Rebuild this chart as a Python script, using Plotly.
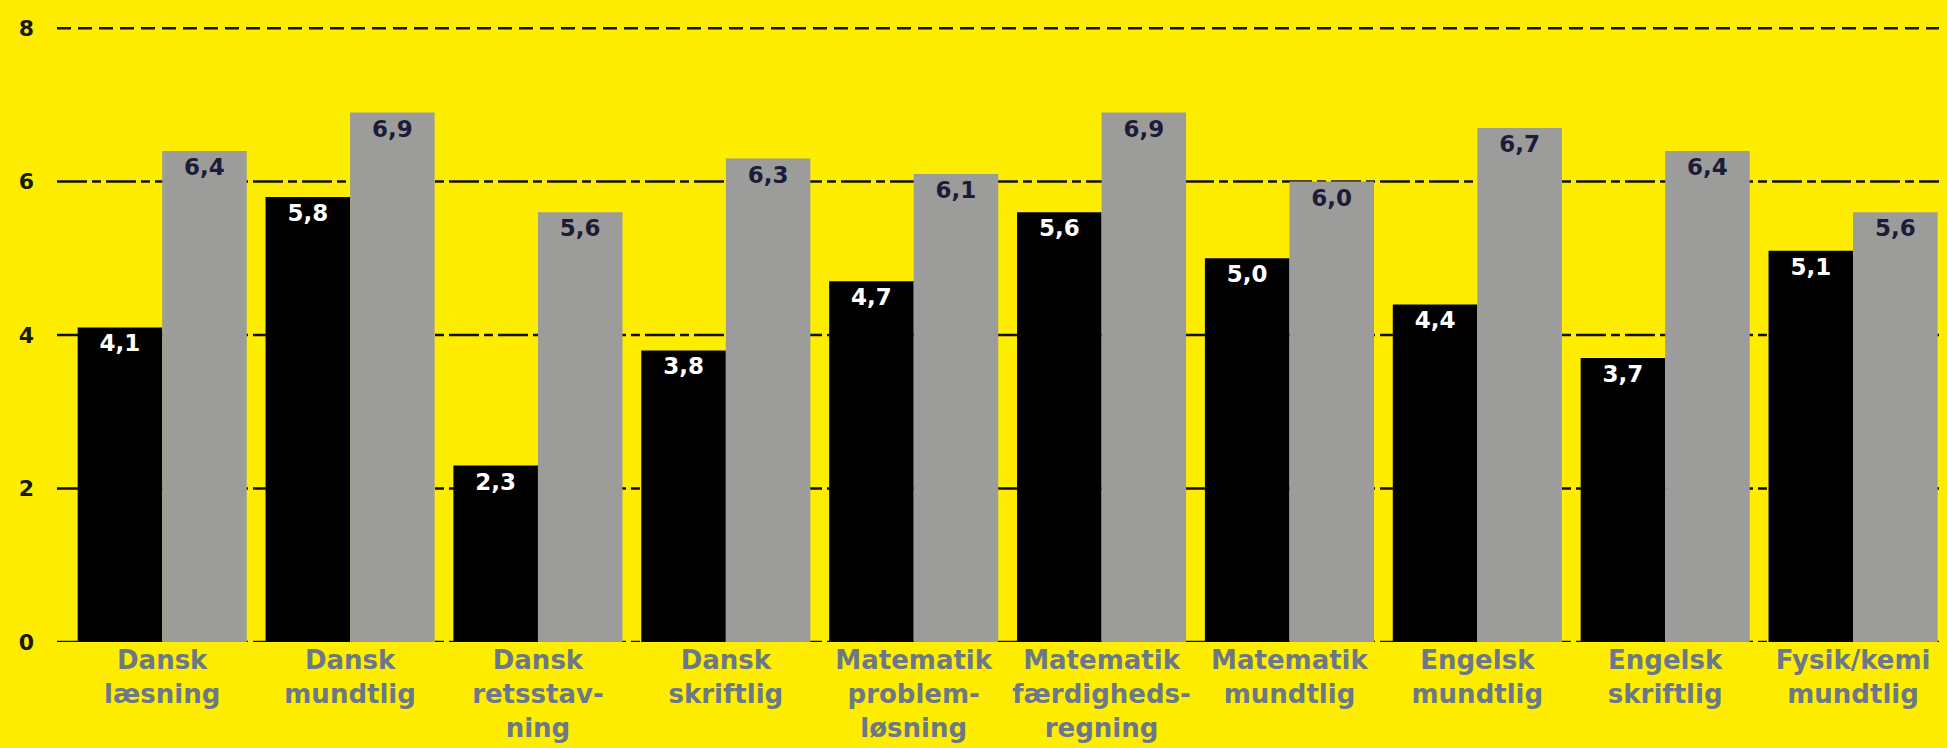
import plotly.graph_objects as go

categories = ["Dansk<br>læsning", "Dansk<br>mundtlig", "Dansk<br>retsstav-<br>ning", "Dansk<br>skriftlig",
              "Matematik<br>problem-<br>løsning", "Matematik<br>færdigheds-<br>regning", "Matematik<br>mundtlig",
              "Engelsk<br>mundtlig", "Engelsk<br>skriftlig", "Fysik/kemi<br>mundtlig"]
black_values = [4.1, 5.8, 2.3, 3.8, 4.7, 5.6, 5.0, 4.4, 3.7, 5.1]
gray_values = [6.4, 6.9, 5.6, 6.3, 6.1, 6.9, 6.0, 6.7, 6.4, 5.6]
ytick_values = [0, 2, 4, 6, 8]

YELLOW = "#FFED00"
FONT = "DejaVu Sans"

fig = go.Figure()
fig.add_trace(go.Bar(x=categories, y=black_values, marker=dict(color="#000000", line=dict(width=0)),
                     texttemplate="%{y:.1f}", textposition="inside", insidetextanchor="end",
                     textangle=0, constraintext="none",
                     textfont=dict(family=FONT, size=23, color="#ffffff", weight="bold")))
fig.add_trace(go.Bar(x=categories, y=gray_values, marker=dict(color="#9c9c9a", line=dict(width=0)),
                     texttemplate="%{y:.1f}", textposition="inside", insidetextanchor="end",
                     textangle=0, constraintext="none",
                     textfont=dict(family=FONT, size=23, color="#1c1c38", weight="bold")))

# gridlines: top one plain dashed, the others long-dash-dot
for v in ytick_values:
    dash = "14px,7px" if v == max(ytick_values) else "30px,5px,9px,5px"
    fig.add_hline(y=v, line=dict(color="#111111", width=2.5, dash=dash), layer="below")

fig.update_layout(
    width=1947, height=748,
    paper_bgcolor=YELLOW, plot_bgcolor=YELLOW,
    margin=dict(l=49, r=8, t=16, b=114),
    barmode="group", bargap=0.1, bargroupgap=0,
    showlegend=False,
    separators=",.",
    xaxis=dict(range=[-0.56, 9.5], showgrid=False, zeroline=False, showline=False,
               ticks="", tickfont=dict(family=FONT, size=26, color="#6b7889", weight="bold")),
    yaxis=dict(range=[0, 8.015], tickvals=ytick_values, showgrid=False, zeroline=False, showline=False,
               ticks="", ticklabelstandoff=22,
               tickfont=dict(family=FONT, size=22, color="#1a1a0a", weight="bold")),
)

fig.write_html("out.html",
               post_script="document.body.style.background='#FFED00';"
                           "document.documentElement.style.background='#FFED00';")
